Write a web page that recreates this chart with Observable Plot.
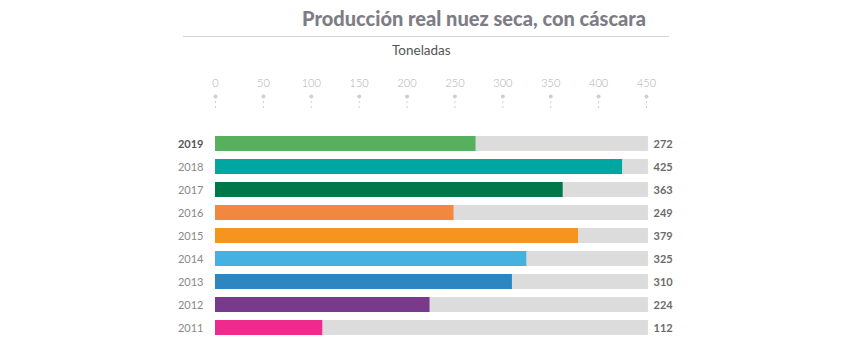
<!DOCTYPE html>
<html><head><meta charset="utf-8">
<script src="https://cdn.jsdelivr.net/npm/d3@7"></script>
<script src="https://cdn.jsdelivr.net/npm/@observablehq/plot@0.6"></script>
<style>
body{margin:0;background:#fff;font-family:Lato,"Noto Sans",sans-serif;}
#wrap{position:relative;width:854px;height:351px;overflow:hidden;}
#title{position:absolute;left:302px;top:6px;white-space:nowrap;font-size:20px;font-weight:900;color:#7e7d86;}
#rule{position:absolute;left:183px;top:36px;width:486px;height:0;border-top:1.5px solid #d4d4d4;}
#sub{position:absolute;left:392px;top:42px;white-space:nowrap;font-size:13.5px;color:#555;}
#chart{position:absolute;left:0;top:64px;}
#chart svg{display:block;}
</style></head>
<body>
<div id="wrap">
<div id="title">Producción real nuez seca, con cáscara</div>
<div id="rule"></div>
<div id="sub">Toneladas</div>
<div id="chart"></div>
</div>
<script>
const years = ["2019","2018","2017","2016","2015","2014","2013","2012","2011"];
const values = [272, 425, 363, 249, 379, 325, 310, 224, 112];
const colors = ["#57b05e","#00a6a0","#00774a","#f28840","#f7941d","#45b1e0","#2e86c1","#7a3a8c","#ee2a8c"];
const tickValues = [0, 50, 100, 150, 200, 250, 300, 350, 400, 450];
const trackMax = 452;

const data = years.map((y, i) => ({year: y, value: values[i], color: colors[i]}));

const plot = Plot.plot({
  width: 854,
  height: 287,
  marginLeft: 215,
  marginRight: 208,
  marginTop: 0,
  marginBottom: 0,
  x: {domain: [0, 450], axis: null},
  y: {domain: years, range: [70.3, 273.5], paddingInner: 0.33, paddingOuter: 0, axis: null},
  style: {fontFamily: "Lato, 'Noto Sans', sans-serif"},
  marks: [
    Plot.text(tickValues, {x: d => d, text: d => String(d), frameAnchor: "top", dy: 19, lineAnchor: "middle", fill: "#b0b0b0", fontSize: 11, fontWeight: 300}),
    Plot.dot(tickValues, {x: d => d, frameAnchor: "top", dy: 32, r: 2, fill: "#cfcfcf", stroke: "none"}),
    Plot.ruleX(tickValues, {x: d => d, insetTop: 37, insetBottom: 287 - 47, stroke: "#cfcfcf", strokeDasharray: "2,3"}),
    Plot.barX(data, {y: "year", x1: 0, x2: trackMax, fill: "#dcdcdc"}),
    Plot.barX(data, {y: "year", x1: 0, x2: "value", fill: "color"}),
    Plot.text(data.filter(d => d.year === "2019"), {y: "year", x: 0, dx: -12, text: "year", textAnchor: "end", fill: "#555", fontSize: 11, fontWeight: 700}),
    Plot.text(data.filter(d => d.year !== "2019"), {y: "year", x: 0, dx: -12, text: "year", textAnchor: "end", fill: "#888", fontSize: 11, fontWeight: 400}),
    Plot.text(data, {y: "year", frameAnchor: "right", dx: 7, text: d => String(d.value), textAnchor: "start", fill: "#6a6a6a", fontSize: 11, fontWeight: 700})
  ]
});
document.getElementById("chart").appendChild(plot);
</script>
</body></html>
